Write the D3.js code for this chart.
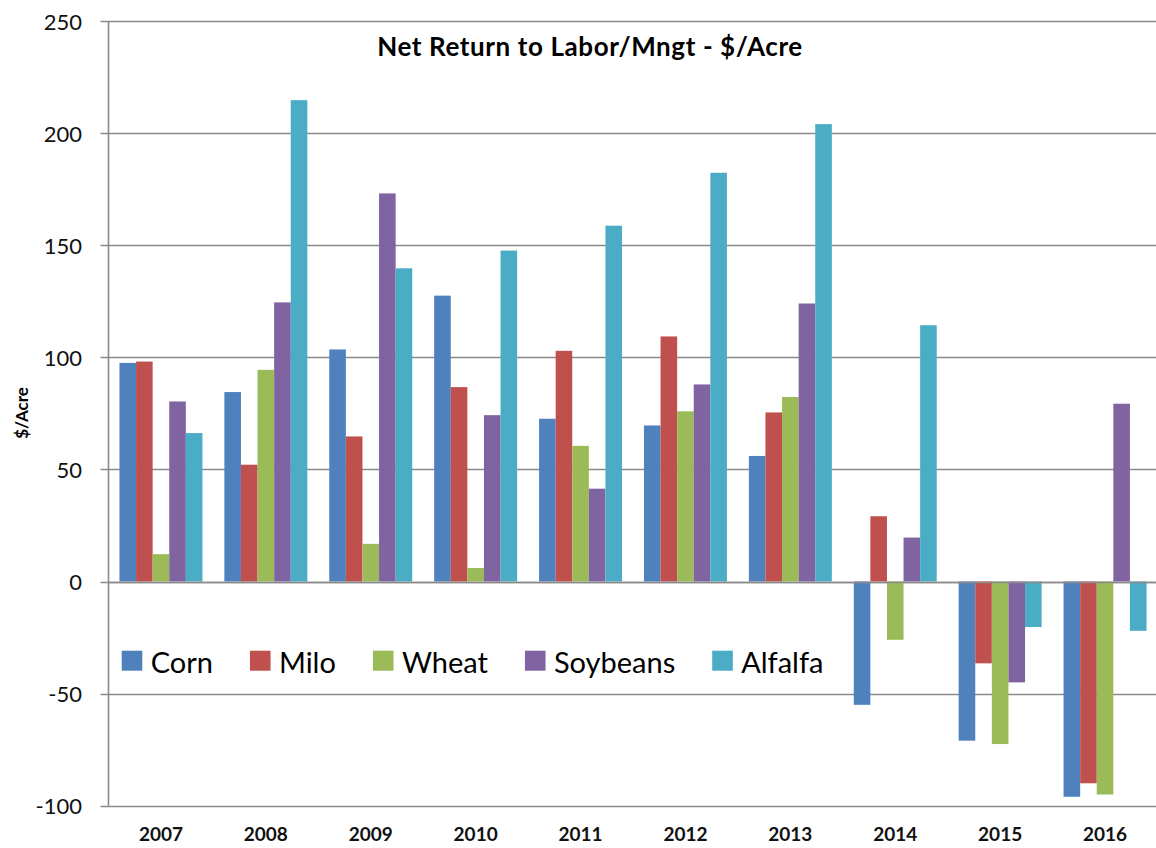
<!DOCTYPE html>
<html>
<head>
<meta charset="utf-8">
<script src="https://cdn.jsdelivr.net/npm/d3@7"></script>
<style>
  html, body { margin: 0; padding: 0; background: #fff; }
  svg { display: block; font-family: Lato, "Open Sans", sans-serif; }
</style>
</head>
<body>
<svg id="chart" width="1156" height="848"></svg>
<script>
const years = ["2007","2008","2009","2010","2011","2012","2013","2014","2015","2016"];
const seriesNames = ["Corn","Milo","Wheat","Soybeans","Alfalfa"];
const seriesColors = ["#4F81BD","#C0504D","#9BBB59","#8064A2","#4BACC6"];
const corn     = [97.5, 84.5, 103.5, 127.5, 72.6, 69.6, 56, -55, -71, -96];
const milo     = [98.1, 52.1, 64.7, 86.7, 102.9, 109.3, 75.4, 29.1, -36.5, -90];
const wheat    = [12.2, 94.4, 16.8, 6, 60.5, 75.9, 82.3, -26, -72.5, -95];
const soybeans = [80.3, 124.5, 173.1, 74.2, 41.4, 87.9, 124, 19.6, -45, 79.3];
const alfalfa  = [66.2, 214.7, 139.7, 147.6, 158.7, 182.3, 204, 114.3, -20.3, -22];
const yTicks = [-100, -50, 0, 50, 100, 150, 200, 250];
const titleText = "Net Return to Labor/Mngt - $/Acre";
const yTitle = "$/Acre";

const seriesValues = [corn, milo, wheat, soybeans, alfalfa];

const svg = d3.select("#chart");
const plotLeft = 108.5, plotRight = 1157.5, plotTop = 21, plotBottom = 805.7;

const x0 = d3.scaleBand().domain(years).range([plotLeft, plotRight]).paddingInner(0.209).paddingOuter(0.1045);
const x1 = d3.scaleBand().domain(seriesNames).range([0, x0.bandwidth()]);
const y = d3.scaleLinear().domain([-100, 250]).range([plotBottom, plotTop]);

// gridlines
svg.append("g").selectAll("line").data(yTicks).join("line")
  .attr("x1", plotLeft - 8).attr("x2", 1156)
  .attr("y1", d => Math.round(y(d)) + 0.5).attr("y2", d => Math.round(y(d)) + 0.5)
  .attr("stroke", "#8a8a8a").attr("stroke-width", 1.6);

// y axis line
svg.append("line").attr("x1", plotLeft).attr("x2", plotLeft).attr("y1", plotTop).attr("y2", plotBottom)
  .attr("stroke", "#8a8a8a").attr("stroke-width", 1.6);

// bars
const groups = svg.append("g").selectAll("g").data(years).join("g")
  .attr("transform", d => `translate(${x0(d)},0)`);
groups.selectAll("rect")
  .data((yr, i) => seriesNames.map((s, j) => ({ s, j, v: seriesValues[j][i] })))
  .join("rect")
  .attr("x", d => x1(d.s))
  .attr("width", x1.bandwidth())
  .attr("y", d => y(Math.max(0, d.v)))
  .attr("height", d => Math.abs(y(d.v) - y(0)))
  .attr("fill", d => seriesColors[d.j]);

// zero line over bars
svg.append("line").attr("x1", plotLeft).attr("x2", 1156)
  .attr("y1", Math.round(y(0)) + 0.5).attr("y2", Math.round(y(0)) + 0.5)
  .attr("stroke", "#8a8a8a").attr("stroke-width", 1.6);

// y tick labels
svg.append("g").selectAll("text").data(yTicks).join("text")
  .attr("x", 82).attr("y", d => y(d))
  .attr("text-anchor", "end").attr("dominant-baseline", "central")
  .attr("font-size", 22).attr("fill", "#111")
  .text(d => d);

// x labels
svg.append("g").selectAll("text").data(years).join("text")
  .attr("x", d => x0(d) + x0.bandwidth() / 2).attr("y", 833)
  .attr("text-anchor", "middle").attr("dominant-baseline", "central")
  .attr("font-size", 19).attr("font-weight", "bold").attr("fill", "#111")
  .text(d => d);

// title
svg.append("text").attr("x", 590).attr("y", 46)
  .attr("text-anchor", "middle").attr("dominant-baseline", "central")
  .attr("font-size", 26).attr("font-weight", "bold").attr("letter-spacing", 0.6).attr("fill", "#000")
  .text(titleText);

// y axis title
svg.append("text").attr("transform", "translate(21,413) rotate(-90)")
  .attr("text-anchor", "middle").attr("dominant-baseline", "central")
  .attr("font-size", 17).attr("font-weight", "bold").attr("fill", "#000")
  .text(yTitle);

// legend
const legend = svg.append("g");
let lx = 121.7;
seriesNames.forEach((name, j) => {
  legend.append("rect").attr("x", lx).attr("y", 650.7).attr("width", 20.6).attr("height", 20)
    .attr("fill", seriesColors[j]);
  const t = legend.append("text").attr("x", lx + 29).attr("y", 661)
    .attr("dominant-baseline", "central").attr("font-size", 29).attr("fill", "#000")
    .text(name);
  const w = t.node().getComputedTextLength();
  lx = lx + 29 + w + 37;
});
</script>
</body>
</html>
